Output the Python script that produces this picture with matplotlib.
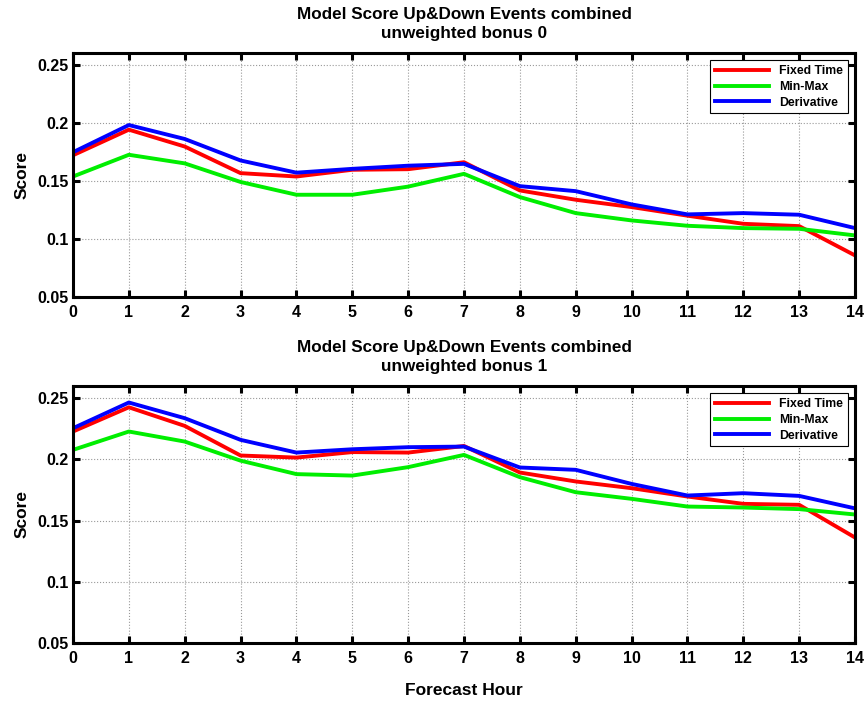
import matplotlib
matplotlib.use("Agg")
import matplotlib.pyplot as plt
import numpy as np

plt.rcParams["font.family"] = ["Liberation Sans", "DejaVu Sans"]
plt.rcParams["font.weight"] = "bold"

hours = list(range(15))
series_names = ["Fixed Time", "Min-Max", "Derivative"]
series_colors = ["#ff0000", "#00ee00", "#0000ff"]

# bonus 0
fixed_b0 = [0.172, 0.194, 0.1795, 0.1566, 0.1537, 0.1595, 0.160, 0.166,
            0.1417, 0.1337, 0.1274, 0.120, 0.113, 0.111, 0.0858]
minmax_b0 = [0.1537, 0.1724, 0.165, 0.149, 0.138, 0.138, 0.145, 0.156,
             0.136, 0.1222, 0.1159, 0.1113, 0.1093, 0.1087, 0.103]
deriv_b0 = [0.1746, 0.198, 0.186, 0.1675, 0.157, 0.1603, 0.163, 0.1646,
            0.1454, 0.1411, 0.1297, 0.1211, 0.1222, 0.1208, 0.1093]

# bonus 1
fixed_b1 = [0.2228, 0.2426, 0.2274, 0.2032, 0.2015, 0.206, 0.2056, 0.211,
            0.1893, 0.182, 0.1765, 0.1697, 0.1637, 0.1629, 0.1362]
minmax_b1 = [0.2078, 0.2228, 0.2146, 0.199, 0.188, 0.1868, 0.1937, 0.2037,
             0.1855, 0.1732, 0.1678, 0.1615, 0.1607, 0.1594, 0.155]
deriv_b1 = [0.2255, 0.2465, 0.2337, 0.216, 0.2056, 0.2083, 0.21, 0.2105,
            0.1934, 0.1915, 0.18, 0.1705, 0.1724, 0.1702, 0.160]

panels = [
    ("Model Score Up&Down Events combined\nunweighted bonus 0",
     [fixed_b0, minmax_b0, deriv_b0]),
    ("Model Score Up&Down Events combined\nunweighted bonus 1",
     [fixed_b1, minmax_b1, deriv_b1]),
]

W, H = 865, 701
fig = plt.figure(figsize=(W / 100, H / 100), dpi=100)

# axes boxes in pixels: left, top, right, bottom
boxes = [(73, 53, 855, 297), (73, 386, 855, 643)]

yticks = [0.05, 0.1, 0.15, 0.2, 0.25]
ytick_labels = ["0.05", "0.1", "0.15", "0.2", "0.25"]

for (title, data), (l, t, r, b) in zip(panels, boxes):
    ax = fig.add_axes([l / W, 1 - b / H, (r - l) / W, (b - t) / H])
    for vals, name, col in zip(data, series_names, series_colors):
        ax.plot(hours, vals, color=col, linewidth=2.8, label=name)
    ax.set_xlim(0, 14)
    ax.set_ylim(0.05, 0.26)
    ax.set_xticks(hours)
    ax.set_yticks(yticks)
    ax.set_yticklabels(ytick_labels)
    ax.grid(True, color="#999999", linestyle=":", linewidth=0.8)
    ax.tick_params(direction="in", length=5, width=2.2, top=True, right=True,
                   labelsize=11.5)
    ax.tick_params(axis="x", pad=6)
    ax.tick_params(axis="y", pad=3)
    for lab in ax.get_xticklabels() + ax.get_yticklabels():
        lab.set_fontweight("bold")
    for sp in ax.spines.values():
        sp.set_linewidth(2.2)
    ax.set_ylabel("Score", fontsize=12.5, fontweight="bold", labelpad=6)
    ax.set_title(title, fontsize=12.3, fontweight="bold", pad=11,
                 linespacing=1.3)
    leg = ax.legend(loc="upper right", handlelength=4.4,
                    fancybox=False, framealpha=1, edgecolor="black",
                    borderaxespad=0.6, labelspacing=0.3,
                    prop={"weight": "bold", "size": 8.8})
    leg.get_frame().set_linewidth(0.8)

ax.set_xlabel("Forecast Hour", fontsize=12.5, fontweight="bold", labelpad=12)

fig.savefig("out.png", dpi=100)
